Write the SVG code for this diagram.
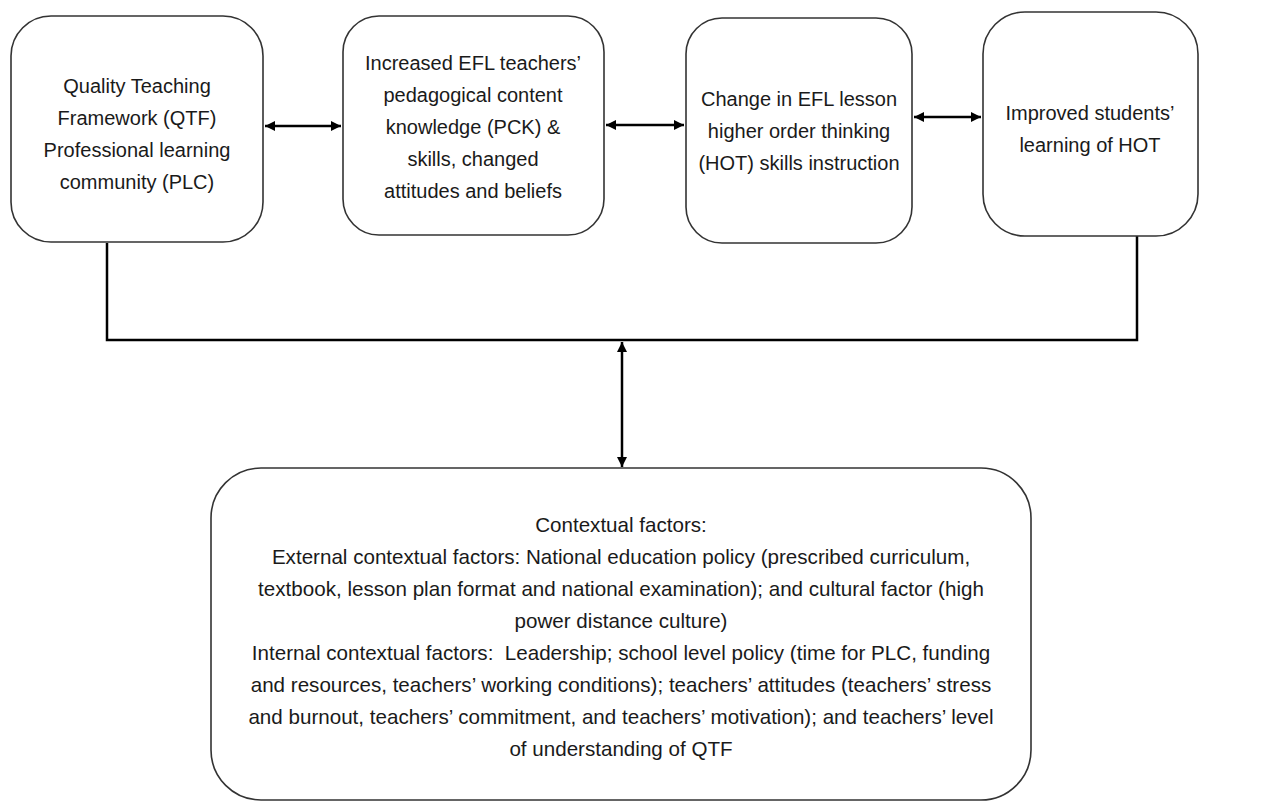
<svg xmlns="http://www.w3.org/2000/svg" width="1286" height="802" viewBox="0 0 1286 802">
<style>
.box{fill:#fff;stroke:#333;stroke-width:1.6}
.t{font-family:"Liberation Sans",Arial,sans-serif;font-size:20px;fill:#1a1a1a;text-anchor:middle}
.b{font-family:"Liberation Sans",Arial,sans-serif;font-size:20.6px;fill:#1a1a1a;text-anchor:middle;white-space:pre}
.c{fill:none;stroke:#000;stroke-width:2.5}
</style>
<defs>
<marker id="ah" viewBox="0 0 10 10" refX="10" refY="5" markerWidth="4.4" markerHeight="4" orient="auto-start-reverse" markerUnits="strokeWidth">
<path d="M0,0 L10,5 L0,10 z" fill="#000"/>
</marker>
</defs>
<rect width="1286" height="802" fill="#fff"/>
<g id="connectors">
<path class="c" d="M107,243 V340 H1137 V236" stroke-width="3"/>
<line class="c" x1="265" y1="126" x2="341" y2="126" marker-start="url(#ah)" marker-end="url(#ah)"/>
<line class="c" x1="606" y1="125" x2="684" y2="125" marker-start="url(#ah)" marker-end="url(#ah)"/>
<line class="c" x1="914" y1="117" x2="981" y2="117" marker-start="url(#ah)" marker-end="url(#ah)"/>
<line class="c" x1="622" y1="342" x2="622" y2="467" stroke-width="2" marker-start="url(#ah)" marker-end="url(#ah)"/>
</g>
<g id="node-qtf">
<rect class="box" x="11" y="16" width="252" height="226" rx="40"/>
<text class="t" x="137" y="93">Quality Teaching</text>
<text class="t" x="137" y="125">Framework (QTF)</text>
<text class="t" x="137" y="157">Professional learning</text>
<text class="t" x="137" y="189">community (PLC)</text>
</g>
<g id="node-pck">
<rect class="box" x="343" y="16" width="261" height="219" rx="36"/>
<text class="t" x="473" y="70">Increased EFL teachers’</text>
<text class="t" x="473" y="102">pedagogical content</text>
<text class="t" x="473" y="134">knowledge (PCK) &amp;</text>
<text class="t" x="473" y="166">skills, changed</text>
<text class="t" x="473" y="198">attitudes and beliefs</text>
</g>
<g id="node-lesson">
<rect class="box" x="686" y="18" width="226" height="225" rx="36"/>
<text class="t" x="799" y="106">Change in EFL lesson</text>
<text class="t" x="799" y="138">higher order thinking</text>
<text class="t" x="799" y="170">(HOT) skills instruction</text>
</g>
<g id="node-students">
<rect class="box" x="983" y="12" width="215" height="224" rx="42"/>
<text class="t" x="1090" y="120">Improved students’</text>
<text class="t" x="1090" y="152">learning of HOT</text>
</g>
<g id="node-context">
<rect class="box" x="211" y="468" width="820" height="332" rx="50"/>
<text class="b" x="621" y="532">Contextual factors:</text>
<text class="b" x="621" y="564">External contextual factors: National education policy (prescribed curriculum,</text>
<text class="b" x="621" y="596">textbook, lesson plan format and national examination); and cultural factor (high</text>
<text class="b" x="621" y="628">power distance culture)</text>
<text class="b" x="621" y="660">Internal contextual factors:  Leadership; school level policy (time for PLC, funding</text>
<text class="b" x="621" y="692">and resources, teachers’ working conditions); teachers’ attitudes (teachers’ stress</text>
<text class="b" x="621" y="724">and burnout, teachers’ commitment, and teachers’ motivation); and teachers’ level</text>
<text class="b" x="621" y="756">of understanding of QTF</text>
</g>
</svg>
